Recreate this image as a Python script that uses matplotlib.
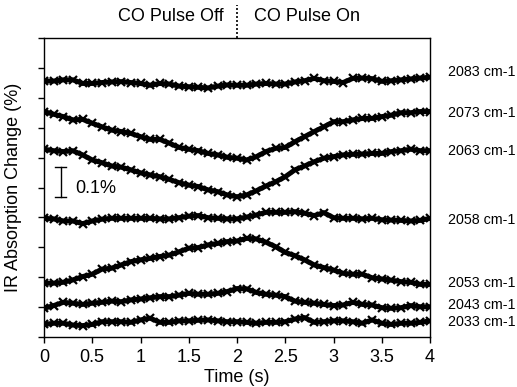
import numpy as np
import matplotlib
matplotlib.use("Agg")
import matplotlib.pyplot as plt

plt.rcParams['font.family'] = ['Liberation Sans', 'DejaVu Sans']

# time samples (s)
time_s = np.linspace(0.0, 4.0, 41)

# IR absorption change (%) with vertical offsets
s2083 = [0.856, 0.856, 0.860, 0.860, 0.848, 0.848, 0.851, 0.853, 0.854, 0.851,
         0.848, 0.842, 0.848, 0.846, 0.839, 0.837, 0.835, 0.833, 0.839, 0.843,
         0.842, 0.842, 0.846, 0.848, 0.846, 0.846, 0.853, 0.857, 0.865, 0.857,
         0.855, 0.851, 0.865, 0.866, 0.864, 0.855, 0.857, 0.860, 0.863, 0.866,
         0.869]
s2073 = [0.754, 0.745, 0.737, 0.726, 0.728, 0.715, 0.703, 0.692, 0.687, 0.681,
         0.670, 0.661, 0.661, 0.648, 0.634, 0.628, 0.623, 0.614, 0.609, 0.601,
         0.598, 0.592, 0.603, 0.620, 0.631, 0.634, 0.653, 0.670, 0.687, 0.703,
         0.720, 0.720, 0.726, 0.731, 0.731, 0.737, 0.742, 0.750, 0.750, 0.754,
         0.754]
s2063 = [0.628, 0.623, 0.620, 0.623, 0.609, 0.592, 0.583, 0.572, 0.568, 0.559,
         0.549, 0.542, 0.536, 0.527, 0.516, 0.508, 0.503, 0.492, 0.486, 0.475,
         0.469, 0.475, 0.489, 0.505, 0.519, 0.536, 0.559, 0.572, 0.586, 0.598,
         0.603, 0.609, 0.611, 0.612, 0.614, 0.614, 0.620, 0.623, 0.628, 0.623,
         0.623]
s2058 = [0.397, 0.395, 0.388, 0.388, 0.379, 0.388, 0.394, 0.397, 0.397, 0.397,
         0.397, 0.397, 0.395, 0.395, 0.399, 0.404, 0.406, 0.399, 0.397, 0.395,
         0.395, 0.401, 0.408, 0.417, 0.417, 0.417, 0.419, 0.414, 0.406, 0.416,
         0.399, 0.397, 0.397, 0.395, 0.397, 0.392, 0.391, 0.390, 0.388, 0.390,
         0.397]
s2053 = [0.180, 0.180, 0.183, 0.191, 0.202, 0.210, 0.227, 0.230, 0.241, 0.252,
         0.258, 0.263, 0.269, 0.274, 0.285, 0.297, 0.299, 0.308, 0.313, 0.319,
         0.321, 0.330, 0.328, 0.317, 0.302, 0.283, 0.272, 0.258, 0.241, 0.232,
         0.224, 0.213, 0.210, 0.210, 0.198, 0.194, 0.190, 0.185, 0.183, 0.176,
         0.176]
s2043 = [0.096, 0.105, 0.116, 0.113, 0.109, 0.113, 0.116, 0.120, 0.118, 0.124,
         0.127, 0.131, 0.135, 0.135, 0.140, 0.146, 0.143, 0.143, 0.146, 0.152,
         0.162, 0.161, 0.149, 0.143, 0.140, 0.135, 0.120, 0.116, 0.113, 0.109,
         0.105, 0.107, 0.116, 0.109, 0.107, 0.098, 0.096, 0.098, 0.105, 0.101,
         0.101]
s2033 = [0.042, 0.046, 0.046, 0.040, 0.038, 0.042, 0.051, 0.051, 0.051, 0.049,
         0.057, 0.063, 0.049, 0.049, 0.054, 0.054, 0.056, 0.057, 0.054, 0.051,
         0.051, 0.049, 0.046, 0.049, 0.049, 0.051, 0.060, 0.065, 0.049, 0.051,
         0.054, 0.054, 0.051, 0.046, 0.057, 0.046, 0.042, 0.046, 0.046, 0.049,
         0.054]

series = [s2083, s2073, s2063, s2058, s2053, s2043, s2033]
series_labels = ["2083 cm-1", "2073 cm-1", "2063 cm-1", "2058 cm-1",
                 "2053 cm-1", "2043 cm-1", "2033 cm-1"]
label_y = [0.887, 0.750, 0.623, 0.391, 0.181, 0.107, 0.051]

x_ticks = [0, 0.5, 1, 1.5, 2, 2.5, 3, 3.5, 4]
x_tick_labels = ["0", "0.5", "1", "1.5", "2", "2.5", "3", "3.5", "4"]
y_ticks = np.round(np.arange(0, 1.01, 0.1), 2)

W, H = 517, 387
fig = plt.figure(figsize=(W / 100, H / 100), dpi=100)
ax = fig.add_axes([44 / W, 1 - 337 / H, (430 - 44) / W, (337 - 38) / H])

for s in series:
    ax.plot(time_s, s, color='black', lw=3.6, solid_capstyle='butt',
            solid_joinstyle='round')
    ax.plot(time_s, s, ls='none', color='black', marker='x', ms=6, mew=1.6)

ax.set_xlim(0, 4)
ax.set_ylim(0, 1.0)
ax.set_xticks(x_ticks)
ax.set_xticklabels(x_tick_labels, fontsize=13)
ax.set_yticks(y_ticks)
ax.set_yticklabels([])
ax.tick_params(axis='both', direction='out', length=4, width=1, color='black')
ax.tick_params(axis='x', pad=5)
for sp in ax.spines.values():
    sp.set_linewidth(1.0)

ax.set_xlabel("Time (s)", fontsize=13, labelpad=2)
ax.set_ylabel("IR Absorption Change (%)", fontsize=13, labelpad=8)

# right-hand labels
for lab, yv in zip(series_labels, label_y):
    ax.text(4.0 + 18 / 96.5, yv, lab, fontsize=10.3, ha='left', va='center',
            transform=ax.transData, clip_on=False)

# scale bar 0.1 %
ax.plot([0.173, 0.173], [0.467, 0.567], color='black', lw=1.0)
ax.plot([0.115, 0.231], [0.467, 0.467], color='black', lw=1.0)
ax.plot([0.115, 0.231], [0.567, 0.567], color='black', lw=1.0)
ax.text(0.32, 0.496, "0.1%", fontsize=13, ha='left', va='center')

# pulse marker above the plot
ax.plot([2, 2], [1.0, 1.11], color='black', lw=1.2, ls=(0, (1.2, 1.2)),
        clip_on=False)
ax.text(1.86, 1.045, "CO Pulse Off", fontsize=13, ha='right', va='bottom')
ax.text(2.18, 1.045, "CO Pulse On", fontsize=13, ha='left', va='bottom')

fig.savefig("out.png", dpi=100)
